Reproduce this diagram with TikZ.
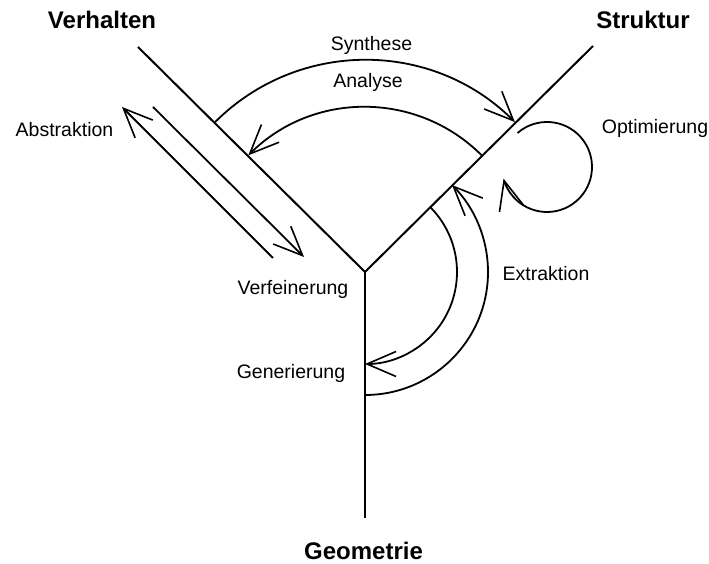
\documentclass[tikz,border=0pt]{standalone}
\usepackage{fontspec}
\setmainfont{Liberation Sans}
\usepackage{tikz}
\usetikzlibrary{arrows.meta, positioning}

\begin{document}
\begin{tikzpicture}[x=1pt, y=1pt,
    truc/.style={line width=2pt},
    muiten/.style={line width=1.8pt, -{Straight Barb[length=29pt, width=25pt, line width=1.6pt]}},
    chu/.style={anchor=base, inner sep=0pt, font=\fontsize{19.5}{22}\selectfont},
    chudam/.style={anchor=base, inner sep=0pt, font=\fontsize{24}{28}\selectfont\bfseries}]
    \useasboundingbox (0,0) rectangle (709,564);

    % Ba truc cua hinh chu Y
    \coordinate (Y) at (365,292);
    \coordinate (V) at (138,517);
    \coordinate (S) at (593,518);
    \coordinate (G) at (365,46);
    \draw[truc] (V) -- (Y) -- (S); % truc trai va truc phai
    \draw[truc] (Y) -- (G); % truc dung

    % Ten cac truc, chu dam
    \node[chudam] (verhalten) at (102,535) {Verhalten};
    \node[chudam] (struktur) at (643,535) {Struktur};
    \node[chudam] (geometrie) at (363.5,4) {Geometrie};

    % Cung Synthese (ngoai) va Analyse (trong)
    \path (Y) ++(135:212pt) coordinate (synA);
    \draw[muiten] (synA) arc[start angle=135, end angle=45, radius=212pt];
    \path (Y) ++(45:165pt) coordinate (anaA);
    \draw[muiten] (anaA) arc[start angle=45, end angle=135, radius=165pt];
    \node[chu] (synthese) at (371.5,513) {Synthese};
    \node[chu] (analyse) at (368,476) {Analyse};

    % Hai mui ten song song Abstraktion / Verfeinerung
    \coordinate (absA) at (273,306);
    \coordinate (absB) at (122,457);
    \draw[muiten] (absA) -- (absB);
    \coordinate (verA) at (153,457);
    \coordinate (verB) at (304,307);
    \draw[muiten] (verA) -- (verB);
    \node[chu] (abstraktion) at (64.5,427) {Abstraktion};
    \node[chu] (verfeinerung) at (293,269) {Verfeinerung};

    % Cung Extraktion (ngoai) va Generierung (trong)
    \path (Y) ++(-90:123pt) coordinate (extA);
    \draw[muiten] (extA) arc[start angle=-90, end angle=45, radius=123pt];
    \path (Y) ++(45:92pt) coordinate (genA);
    \draw[muiten] (genA) arc[start angle=45, end angle=-90, radius=92pt];
    \node[chu] (extraktion) at (546,283) {Extraktion};
    \node[chu] (generierung) at (291,185) {Generierung};

    % Vong Optimierung
    \coordinate (optM) at (547,397);
    \path (optM) ++(131:45pt) coordinate (optA);
    \draw[muiten] (optA) arc[start angle=131, end angle=-165, radius=45pt];
    \node[chu] (optimierung) at (655,430) {Optimierung};
\end{tikzpicture}
\end{document}
